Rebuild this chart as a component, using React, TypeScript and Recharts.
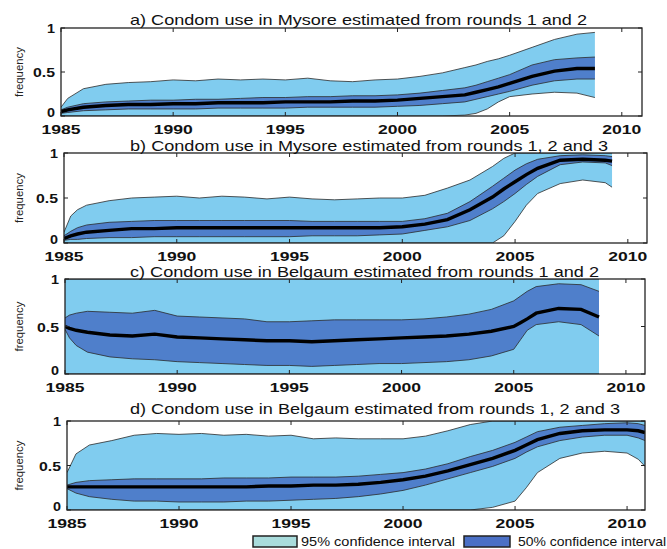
import { ComposedChart, Area, Line, XAxis, YAxis } from "recharts";

// a) Mysore, rounds 1 and 2
const yearsA = [1985, 1985.3, 1986, 1987, 1988, 1989, 1990, 1991, 1992, 1993, 1994, 1995, 1996, 1997, 1998, 1999, 2000, 2001, 2002, 2003, 2003.5, 2004, 2004.5, 2005, 2006, 2007, 2008, 2008.8];
const hi95A = [0.1, 0.2, 0.31, 0.36, 0.38, 0.39, 0.41, 0.4, 0.42, 0.41, 0.42, 0.41, 0.43, 0.4, 0.39, 0.41, 0.42, 0.45, 0.49, 0.55, 0.58, 0.62, 0.65, 0.69, 0.78, 0.87, 0.93, 0.95];
const hi50A = [0.07, 0.1, 0.14, 0.16, 0.17, 0.18, 0.18, 0.19, 0.19, 0.2, 0.21, 0.21, 0.22, 0.22, 0.23, 0.23, 0.24, 0.26, 0.29, 0.32, 0.35, 0.39, 0.43, 0.47, 0.58, 0.64, 0.66, 0.67];
const medA = [0.05, 0.07, 0.1, 0.12, 0.13, 0.13, 0.14, 0.14, 0.15, 0.15, 0.15, 0.16, 0.16, 0.16, 0.17, 0.17, 0.18, 0.2, 0.22, 0.24, 0.27, 0.3, 0.33, 0.37, 0.45, 0.51, 0.54, 0.54];
const lo50A = [0.03, 0.04, 0.06, 0.07, 0.08, 0.08, 0.08, 0.08, 0.09, 0.09, 0.09, 0.09, 0.1, 0.1, 0.1, 0.1, 0.11, 0.12, 0.14, 0.16, 0.19, 0.22, 0.25, 0.28, 0.35, 0.4, 0.42, 0.42];
const lo95A = [0, 0, 0, 0, 0, 0, 0, 0, 0, 0, 0, 0, 0, 0, 0, 0, 0, 0, 0, 0.01, 0.03, 0.08, 0.16, 0.22, 0.25, 0.27, 0.26, 0.21];

// b) Mysore, rounds 1, 2 and 3
const yearsB = [1985, 1985.3, 1985.6, 1986, 1987, 1988, 1989, 1990, 1991, 1992, 1993, 1994, 1995, 1996, 1997, 1998, 1999, 2000, 2001, 2002, 2003, 2004, 2004.5, 2005, 2005.5, 2006, 2007, 2008, 2009, 2009.3];
const hi95B = [0.12, 0.3, 0.37, 0.42, 0.47, 0.5, 0.51, 0.52, 0.5, 0.52, 0.51, 0.49, 0.51, 0.49, 0.48, 0.49, 0.5, 0.5, 0.53, 0.61, 0.7, 0.85, 0.94, 1, 1, 1, 1, 1, 1, 1];
const hi50B = [0.08, 0.13, 0.17, 0.2, 0.23, 0.24, 0.25, 0.25, 0.25, 0.25, 0.25, 0.25, 0.25, 0.24, 0.24, 0.24, 0.24, 0.24, 0.27, 0.33, 0.46, 0.63, 0.72, 0.81, 0.88, 0.93, 0.97, 0.98, 0.97, 0.96];
const medB = [0.05, 0.08, 0.1, 0.12, 0.14, 0.16, 0.16, 0.17, 0.17, 0.17, 0.17, 0.17, 0.17, 0.17, 0.17, 0.17, 0.17, 0.18, 0.21, 0.26, 0.37, 0.51, 0.6, 0.68, 0.76, 0.83, 0.92, 0.93, 0.92, 0.91];
const lo50B = [0.03, 0.04, 0.04, 0.05, 0.06, 0.06, 0.07, 0.07, 0.07, 0.07, 0.07, 0.07, 0.07, 0.08, 0.08, 0.08, 0.09, 0.1, 0.14, 0.18, 0.25, 0.38, 0.46, 0.55, 0.65, 0.74, 0.87, 0.9, 0.89, 0.86];
const lo95B = [0, 0, 0, 0, 0, 0, 0, 0, 0, 0, 0, 0, 0, 0, 0, 0, 0, 0, 0, 0, 0, 0, 0.08, 0.24, 0.42, 0.55, 0.66, 0.7, 0.67, 0.62];

// c) Belgaum, rounds 1 and 2
const yearsC = [1985, 1985.2, 1985.5, 1986, 1987, 1988, 1989, 1990, 1991, 1992, 1993, 1994, 1995, 1996, 1997, 1998, 1999, 2000, 2001, 2002, 2003, 2004, 2005, 2005.3, 2005.6, 2006, 2007, 2008, 2008.8];
const hi95C = [1, 1, 1, 1, 1, 1, 1, 1, 1, 1, 1, 1, 1, 1, 1, 1, 1, 1, 1, 1, 1, 1, 1, 1, 1, 1, 1, 1, 1];
const hi50C = [0.59, 0.62, 0.64, 0.66, 0.65, 0.64, 0.67, 0.61, 0.6, 0.59, 0.58, 0.55, 0.55, 0.56, 0.57, 0.57, 0.57, 0.57, 0.58, 0.6, 0.63, 0.68, 0.77, 0.82, 0.87, 0.92, 0.95, 0.94, 0.87];
const medC = [0.5, 0.48, 0.46, 0.44, 0.41, 0.4, 0.42, 0.39, 0.38, 0.37, 0.36, 0.35, 0.35, 0.34, 0.35, 0.36, 0.37, 0.38, 0.39, 0.4, 0.42, 0.45, 0.5, 0.54, 0.58, 0.64, 0.69, 0.68, 0.6];
const lo50C = [0.47, 0.38, 0.3, 0.23, 0.18, 0.16, 0.15, 0.13, 0.12, 0.11, 0.1, 0.09, 0.09, 0.08, 0.09, 0.1, 0.11, 0.11, 0.12, 0.13, 0.15, 0.19, 0.26, 0.36, 0.46, 0.52, 0.55, 0.52, 0.4];
const lo95C = [0, 0, 0, 0, 0, 0, 0, 0, 0, 0, 0, 0, 0, 0, 0, 0, 0, 0, 0, 0, 0, 0, 0, 0, 0, 0, 0, 0, 0];

// d) Belgaum, rounds 1, 2 and 3
const yearsD = [1985, 1985.4, 1986, 1987, 1988, 1989, 1990, 1991, 1992, 1993, 1994, 1995, 1996, 1997, 1998, 1999, 2000, 2001, 2002, 2003, 2004, 2005, 2005.5, 2006, 2007, 2008, 2009, 2010, 2010.5, 2010.8];
const hi95D = [0.42, 0.63, 0.73, 0.78, 0.84, 0.86, 0.85, 0.86, 0.84, 0.85, 0.83, 0.84, 0.8, 0.81, 0.8, 0.8, 0.8, 0.83, 0.89, 0.96, 1, 1, 1, 1, 1, 1, 1, 1, 1, 1];
const hi50D = [0.28, 0.31, 0.33, 0.34, 0.35, 0.35, 0.35, 0.35, 0.36, 0.36, 0.36, 0.37, 0.37, 0.37, 0.38, 0.4, 0.42, 0.46, 0.52, 0.6, 0.67, 0.76, 0.82, 0.88, 0.93, 0.95, 0.97, 0.98, 0.97, 0.95];
const medD = [0.26, 0.26, 0.26, 0.26, 0.26, 0.26, 0.26, 0.26, 0.26, 0.26, 0.27, 0.27, 0.28, 0.28, 0.29, 0.31, 0.34, 0.38, 0.44, 0.51, 0.58, 0.67, 0.73, 0.79, 0.86, 0.89, 0.9, 0.9, 0.89, 0.87];
const lo50D = [0.24, 0.19, 0.15, 0.12, 0.1, 0.1, 0.09, 0.09, 0.09, 0.1, 0.1, 0.11, 0.12, 0.13, 0.15, 0.18, 0.22, 0.28, 0.35, 0.42, 0.49, 0.58, 0.65, 0.71, 0.78, 0.82, 0.84, 0.84, 0.81, 0.78];
const lo95D = [0, 0, 0, 0, 0, 0, 0, 0, 0, 0, 0, 0, 0, 0, 0, 0, 0, 0, 0, 0, 0.03, 0.1, 0.25, 0.42, 0.58, 0.64, 0.66, 0.64, 0.57, 0.49];

const titles = [
  "a) Condom use in Mysore estimated from rounds 1 and 2",
  "b) Condom use in Mysore estimated from rounds 1, 2 and 3",
  "c) Condom use in Belgaum estimated from rounds 1 and 2",
  "d) Condom use in Belgaum estimated from rounds 1, 2 and 3",
];
const xTicks = [1985, 1990, 1995, 2000, 2005, 2010];
const yTicks = [0, 0.5, 1];
const yTickLabels = ["0", "0.5", "1"];
const legendLabels = ["95% confidence interval", "50% confidence interval"];

const LIGHT = "#80ccef";
const DARK = "#4f7fcb";
const EDGE = "#2b2b2b";
const FONT = "'Liberation Sans', Arial, sans-serif";
const W = 667;
const PAD_T = 12;
const AX_H = 28;
const YW = 45;

// plot box geometry per panel (page px) and title placement
const panels = [
  { years: yearsA, lo95: lo95A, hi95: hi95A, lo50: lo50A, hi50: hi50A, med: medA, left: 61, right: 642, top: 28, bottom: 116, xMax: 2010.9, titleY: 25, titleW: 457 },
  { years: yearsB, lo95: lo95B, hi95: hi95B, lo50: lo50B, hi50: hi50B, med: medB, left: 64, right: 647, top: 153, bottom: 243, xMax: 2010.85, titleY: 151, titleW: 478 },
  { years: yearsC, lo95: lo95C, hi95: hi95C, lo50: lo50C, hi50: hi50C, med: medC, left: 65, right: 645, top: 279, bottom: 374, xMax: 2010.85, titleY: 277, titleW: 469 },
  { years: yearsD, lo95: lo95D, hi95: hi95D, lo50: lo50D, hi50: hi50D, med: medD, left: 67, right: 645, top: 421, bottom: 510, xMax: 2010.8, titleY: 414, titleW: 490 },
];

type PanelDef = (typeof panels)[number];

const Panel = ({ p }: { p: PanelDef }) => {
  const rows = p.years.map((year, i) => ({
    year,
    band95: [p.lo95[i], p.hi95[i]],
    band50: [p.lo50[i], p.hi50[i]],
    med: p.med[i],
  }));
  const plotH = p.bottom - p.top;
  const pb = PAD_T + plotH;

  const xTick = (props: any) => {
    const { x, payload } = props;
    return (
      <g>
        <line x1={x} x2={x} y1={pb} y2={pb - 4} stroke="#222" />
        <line x1={x} x2={x} y1={PAD_T} y2={PAD_T + 4} stroke="#222" />
        <text
          x={x}
          y={pb + 18}
          textAnchor="middle"
          fontSize={13}
          fontWeight="bold"
          fontFamily={FONT}
          fill="#111"
          textLength={39}
          lengthAdjust="spacingAndGlyphs"
        >
          {payload.value}
        </text>
      </g>
    );
  };

  const yTick = (props: any) => {
    const { y, payload, index } = props;
    const label = yTickLabels[index] ?? String(payload.value);
    const lx = p.left;
    return (
      <g>
        <line x1={lx} x2={lx + 4} y1={y} y2={y} stroke="#222" />
        <line x1={p.right - 4} x2={p.right} y1={y} y2={y} stroke="#222" />
        <text
          x={lx - 6}
          y={payload.value === 0 ? y + 1 : y + 5}
          textAnchor="end"
          fontSize={13}
          fontWeight="bold"
          fontFamily={FONT}
          fill="#111"
          textLength={label.length === 3 ? 22 : 8}
          lengthAdjust="spacingAndGlyphs"
        >
          {label}
        </text>
      </g>
    );
  };

  return (
    <div style={{ position: "absolute", left: 0, top: p.top - PAD_T }}>
      <ComposedChart
        width={W}
        height={plotH + PAD_T + AX_H}
        data={rows}
        margin={{ top: PAD_T, right: W - p.right, bottom: 0, left: p.left - YW }}
      >
        <XAxis
          dataKey="year"
          type="number"
          domain={[1985, p.xMax]}
          ticks={xTicks}
          interval={0}
          allowDataOverflow
          axisLine={false}
          tickLine={false}
          height={AX_H}
          tick={xTick}
        />
        <YAxis
          type="number"
          domain={[0, 1]}
          ticks={yTicks}
          interval={0}
          allowDataOverflow
          axisLine={false}
          tickLine={false}
          width={YW}
          tick={yTick}
        />
        <Area
          dataKey="band95"
          type="linear"
          fill={LIGHT}
          fillOpacity={1}
          stroke={EDGE}
          strokeWidth={0.8}
          dot={false}
          activeDot={false}
          isAnimationActive={false}
        />
        <Area
          dataKey="band50"
          type="linear"
          fill={DARK}
          fillOpacity={1}
          stroke={EDGE}
          strokeWidth={0.8}
          dot={false}
          activeDot={false}
          isAnimationActive={false}
        />
        <Line
          dataKey="med"
          type="linear"
          stroke="#000"
          strokeWidth={3.4}
          dot={false}
          activeDot={false}
          isAnimationActive={false}
        />
      </ComposedChart>
    </div>
  );
};

export default function App() {
  return (
    <div style={{ position: "absolute", left: 0, top: 0, width: W, height: 549, background: "#fff" }}>
      {panels.map((p, i) => (
        <Panel key={i} p={p} />
      ))}
      <svg
        width={W}
        height={549}
        style={{ position: "absolute", left: 0, top: 0, pointerEvents: "none" }}
      >
        {panels.map((p, i) => (
          <g key={i}>
            <rect
              x={p.left}
              y={p.top}
              width={p.right - p.left}
              height={p.bottom - p.top}
              fill="none"
              stroke="#222"
              strokeWidth={1.3}
            />
            <text
              x={130}
              y={p.titleY}
              fontSize={15}
              fontFamily={FONT}
              fill="#111"
              textLength={p.titleW}
              lengthAdjust="spacingAndGlyphs"
            >
              {titles[i]}
            </text>
            <text
              x={0}
              y={0}
              fontSize={10}
              fontFamily={FONT}
              fill="#222"
              textAnchor="middle"
              textLength={50}
              lengthAdjust="spacingAndGlyphs"
              transform={`translate(23, ${(p.top + p.bottom) / 2}) rotate(-90)`}
            >
              frequency
            </text>
          </g>
        ))}
        <rect x={253} y={536} width={44} height={11} fill="#a9dcdc" stroke="#222" strokeWidth={1.5} />
        <text x={301} y={546} fontSize={13} fontFamily={FONT} fill="#111" textLength={154} lengthAdjust="spacingAndGlyphs">
          {legendLabels[0]}
        </text>
        <rect x={464} y={536} width={46} height={11} fill="#4b70c6" stroke="#222" strokeWidth={1.5} />
        <text x={518} y={546} fontSize={13} fontFamily={FONT} fill="#111" textLength={148} lengthAdjust="spacingAndGlyphs">
          {legendLabels[1]}
        </text>
      </svg>
    </div>
  );
}
